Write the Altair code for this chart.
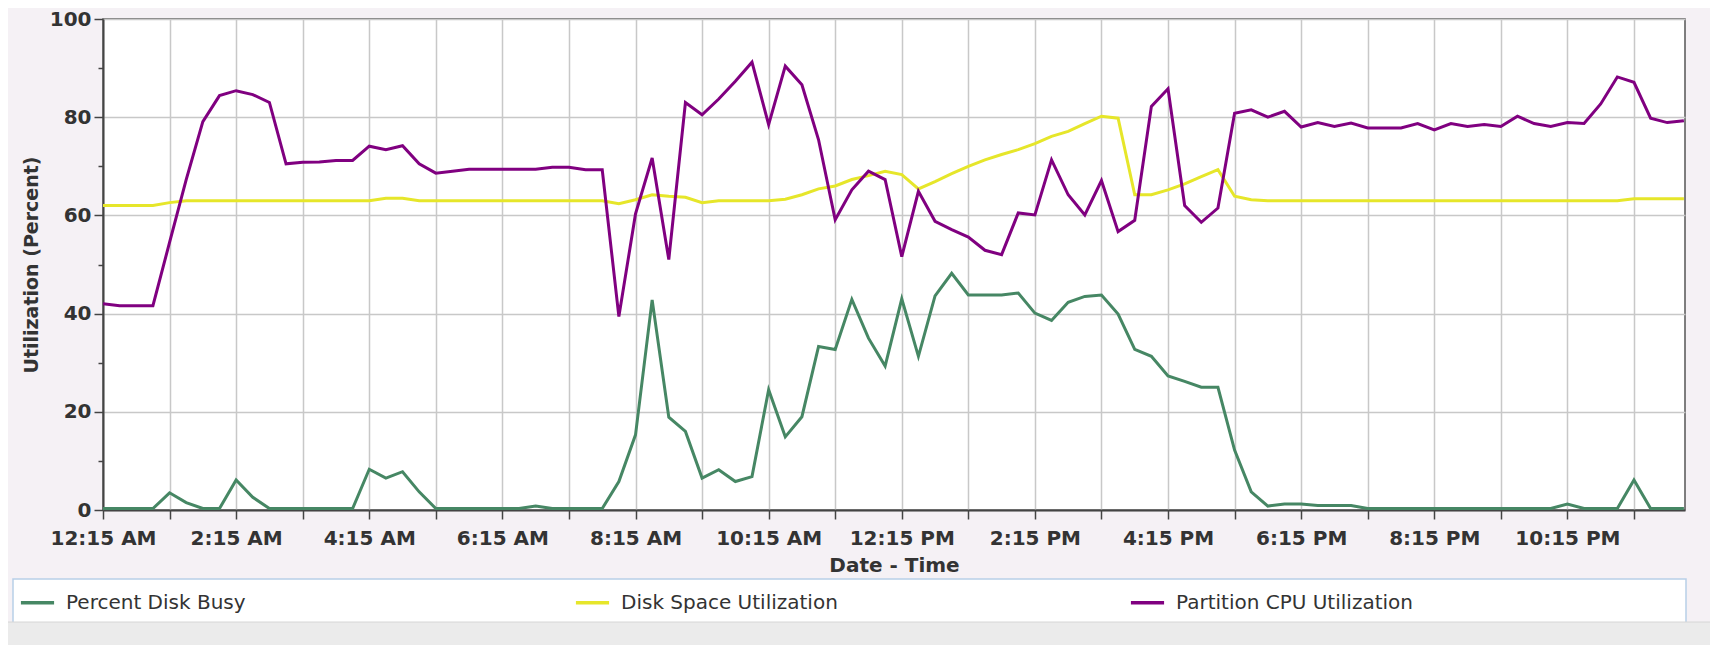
import altair as alt
import pandas as pd

# ---- data (15-minute samples, 12:15 AM .. 12:00 AM) ----
times = pd.date_range("2024-01-01 00:15", periods=96, freq="15min")

series_names = ["Percent Disk Busy", "Disk Space Utilization", "Partition CPU Utilization"]
series_colors = ["#468764", "#e6e62a", "#800080"]

disk_busy = [
    0.3, 0.3, 0.3, 0.3, 3.5, 1.5, 0.3, 0.3, 6.1, 2.6, 0.3, 0.3, 0.3, 0.3, 0.3, 0.3,
    8.3, 6.5, 7.8, 3.7, 0.3, 0.3, 0.3, 0.3, 0.3, 0.3, 0.8, 0.3, 0.3, 0.3, 0.3, 5.8,
    15.3, 42.8, 18.9, 16.0, 6.5, 8.2, 5.8, 6.8, 24.5, 14.9, 19.0, 33.3, 32.7, 42.9, 35.0, 29.3,
    43.0, 31.3, 43.6, 48.2, 43.8, 43.8, 43.8, 44.2, 40.1, 38.6, 42.3, 43.5, 43.8, 39.9, 32.7, 31.3,
    27.3, 26.2, 25.0, 25.0, 12.2, 3.7, 0.8, 1.2, 1.2, 0.9, 0.9, 0.9, 0.3, 0.3, 0.3, 0.3,
    0.3, 0.3, 0.3, 0.3, 0.3, 0.3, 0.3, 0.3, 1.2, 0.3, 0.3, 0.3, 6.1, 0.3, 0.3, 0.3,
]

disk_space = [
    62.0, 62.0, 62.0, 62.0, 62.6, 63.0, 63.0, 63.0, 63.0, 63.0, 63.0, 63.0, 63.0, 63.0, 63.0, 63.0,
    63.0, 63.5, 63.5, 63.0, 63.0, 63.0, 63.0, 63.0, 63.0, 63.0, 63.0, 63.0, 63.0, 63.0, 63.0, 62.4,
    63.2, 64.2, 63.9, 63.7, 62.6, 63.0, 63.0, 63.0, 63.0, 63.3, 64.2, 65.4, 66.0, 67.3, 68.1, 69.0,
    68.3, 65.4, 66.9, 68.5, 70.0, 71.3, 72.4, 73.4, 74.6, 76.1, 77.1, 78.7, 80.2, 79.8, 64.2, 64.2,
    65.2, 66.4, 67.9, 69.3, 63.9, 63.2, 63.0, 63.0, 63.0, 63.0, 63.0, 63.0, 63.0, 63.0, 63.0, 63.0,
    63.0, 63.0, 63.0, 63.0, 63.0, 63.0, 63.0, 63.0, 63.0, 63.0, 63.0, 63.0, 63.4, 63.4, 63.4, 63.4,
]

cpu = [
    42.0, 41.6, 41.6, 41.6, 54.5, 67.3, 79.1, 84.4, 85.4, 84.6, 83.0, 70.5, 70.8, 70.9, 71.2, 71.2,
    74.1, 73.4, 74.2, 70.5, 68.6, 69.0, 69.4, 69.4, 69.4, 69.4, 69.4, 69.8, 69.8, 69.3, 69.3, 39.4,
    60.3, 71.7, 51.0, 83.0, 80.5, 83.7, 87.3, 91.2, 78.5, 90.4, 86.6, 75.4, 59.1, 65.2, 69.0, 67.3,
    51.6, 64.9, 58.8, 57.1, 55.6, 52.9, 52.0, 60.5, 60.1, 71.3, 64.2, 60.1, 67.1, 56.7, 59.0, 82.2,
    85.8, 62.0, 58.6, 61.5, 80.8, 81.5, 80.0, 81.2, 78.0, 78.9, 78.1, 78.8, 77.8, 77.8, 77.8, 78.7,
    77.4, 78.7, 78.1, 78.5, 78.1, 80.2, 78.7, 78.1, 78.9, 78.7, 82.7, 88.2, 87.1, 79.8, 78.9, 79.3,
]

y_ticks = [0, 10, 20, 30, 40, 50, 60, 70, 80, 90, 100]

rows = []
for name, vals in zip(series_names, [disk_busy, disk_space, cpu]):
    for t, v in zip(times, vals):
        rows.append({"time": t, "series": name, "value": v})
df = pd.DataFrame(rows)

# ---- layout ----
W, H = 1582, 491
FONT = "DejaVu Sans"
TXT = "#333333"

x_ticks = [alt.DateTime(year=2024, month=1, date=1, hours=h, minutes=15) for h in range(24)]
x_domain = [
    alt.DateTime(year=2024, month=1, date=1, hours=0, minutes=15),
    alt.DateTime(year=2024, month=1, date=2, hours=0, minutes=1),
]

lines = alt.Chart(df).mark_line(strokeWidth=3, strokeJoin="miter", clip=True).encode(
    x=alt.X(
        "time:T",
        scale=alt.Scale(domain=x_domain),
        axis=alt.Axis(
            title="Date - Time",
            values=x_ticks,
            labelExpr="hours(datum.value) % 2 == 0 ? timeFormat(datum.value, '%-I:%M %p') : ''",
            labelFont=FONT, labelFontSize=20, labelFontWeight="bold", labelColor=TXT,
            labelPadding=9, labelFlush=False, labelOverlap=False,
            titleFont=FONT, titleFontSize=20, titleFontWeight="bold", titleColor=TXT,
            titlePadding=7,
            tickSize=9, tickWidth=1.5, tickColor="#444444",
            domainColor="#444444", domainWidth=2,
            gridColor="#c8c8c8", gridWidth=1.5,
        ),
    ),
    y=alt.Y(
        "value:Q",
        scale=alt.Scale(domain=[0, 100], nice=False),
        axis=alt.Axis(
            title="Utilization (Percent)",
            values=y_ticks,
            labelExpr="datum.value % 20 == 0 ? datum.label : ''",
            labelFont=FONT, labelFontSize=20, labelFontWeight="bold", labelColor=TXT,
            labelPadding=3,
            titleFont=FONT, titleFontSize=19, titleFontWeight="bold", titleColor=TXT,
            titlePadding=8,
            tickSize={"condition": {"test": "datum.value % 20 == 0", "value": 9}, "value": 5},
            tickWidth=1.5, tickColor="#444444",
            domainColor="#444444", domainWidth=2,
            gridColor="#c8c8c8", gridWidth=1.5,
            gridOpacity={"condition": {"test": "datum.value % 20 == 0", "value": 1}, "value": 0},
        ),
    ),
    color=alt.Color(
        "series:N",
        scale=alt.Scale(domain=series_names, range=series_colors),
        sort=series_names,
        legend=alt.Legend(
            orient="none", legendX=-84, legendY=565,
            direction="horizontal", columns=3, gridAlign="all", columnPadding=265,
            symbolType="stroke", symbolSize=1100, symbolStrokeWidth=3.5,
            labelFont=FONT, labelFontSize=20, labelColor=TXT, labelOffset=10, labelLimit=0,
            title=None,
        ),
    ),
    order=alt.Order("series:N"),
)

one = alt.Data(values=[{}])

legend_box = alt.Chart(one).mark_rect(fill="white", stroke="#b8cfe8", strokeWidth=1.5).encode(
    x=alt.value(-90), x2=alt.value(1583), y=alt.value(560), y2=alt.value(612)
)
scrollbar = alt.Chart(one).mark_rect(fill="#ebebeb", stroke="#d6d6d6", strokeWidth=1).encode(
    x=alt.value(-100), x2=alt.value(1620), y=alt.value(603), y2=alt.value(640)
)

chart = alt.layer(legend_box, scrollbar, lines).properties(
    width=W, height=H,
    autosize=alt.AutoSizeParams(type="none"),
    padding={"left": 95, "top": 11, "right": 25, "bottom": 135},
    background="#f5f1f5",
).configure_view(fill="white", stroke="#555555", strokeWidth=1.5)

chart.save("out.html", embed_options={"renderer": "svg", "actions": False})
